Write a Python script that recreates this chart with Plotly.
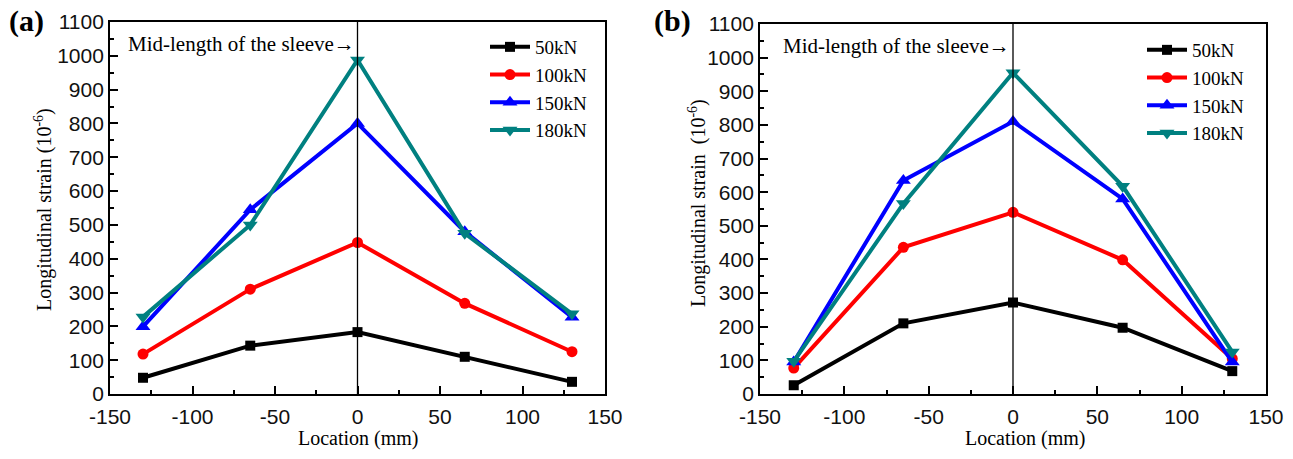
import plotly.graph_objects as go

W, H = 1293, 459
location = [-130, -65, 0, 65, 130]
series_names = ["50kN", "100kN", "150kN", "180kN"]
colors = ["#000000", "#ff0000", "#0000ff", "#008080"]
symbols = ["square", "circle", "triangle-up", "triangle-down"]
msizes = [10, 11, 13, 13]

a_50 = [48, 143, 183, 110, 36]
a_100 = [118, 310, 448, 268, 125]
a_150 = [199, 545, 800, 480, 227]
a_180 = [228, 500, 988, 475, 237]

b_50 = [26, 210, 272, 197, 68]
b_100 = [77, 436, 540, 399, 105]
b_150 = [95, 635, 810, 580, 95]
b_180 = [97, 566, 955, 618, 125]

x_ticks = [-150, -100, -50, 0, 50, 100, 150]
x_labels = ["-150", "-100", "-50", "0", "50", "100", "150"]
y_ticks = list(range(0, 1101, 100))

panel_a = [a_50, a_100, a_150, a_180]
panel_b = [b_50, b_100, b_150, b_180]

fig = go.Figure()

def px(v):
    return v / W

def py(v):
    return 1 - v / H

for i, name in enumerate(series_names):
    fig.add_trace(go.Scatter(
        x=location, y=panel_a[i], name=name, mode="lines+markers",
        line=dict(color=colors[i], width=4),
        marker=dict(symbol=symbols[i], size=msizes[i], color=colors[i]),
        xaxis="x", yaxis="y", legend="legend"))
for i, name in enumerate(series_names):
    fig.add_trace(go.Scatter(
        x=location, y=panel_b[i], name=name, mode="lines+markers",
        line=dict(color=colors[i], width=4),
        marker=dict(symbol=symbols[i], size=msizes[i], color=colors[i]),
        xaxis="x2", yaxis="y2", legend="legend2"))

serif = "Liberation Serif, Times New Roman"
tickfont = dict(family="Liberation Sans, Arial", size=21, color="#111")
common_x = dict(range=[-150, 150], tickvals=x_ticks, ticktext=x_labels, ticks="inside", ticklen=8,
                tickwidth=1.5, tickcolor="#000", showline=True, linecolor="#000",
                linewidth=1.8, mirror=True, showgrid=False, zeroline=False,
                tickfont=tickfont, automargin=False, ticklabelstandoff=3,
                minor=dict(dtick=25, ticks="inside", ticklen=4, tickcolor="#000", tickwidth=1.5))
common_y = dict(range=[0, 1100], tickvals=y_ticks, ticks="inside", ticklen=8,
                tickwidth=1.5, tickcolor="#000", showline=True, linecolor="#000",
                linewidth=1.8, mirror=True, showgrid=False, zeroline=False,
                tickfont=tickfont, automargin=False,
                minor=dict(dtick=50, ticks="inside", ticklen=4, tickcolor="#000", tickwidth=1.5))

legfont = dict(family=serif, size=19, color="#000")
fig.update_layout(
    width=W, height=H,
    margin=dict(l=0, r=0, t=0, b=0, autoexpand=False),
    paper_bgcolor="white", plot_bgcolor="white",
    xaxis=dict(domain=[px(110), px(605)], anchor="y", **common_x),
    yaxis=dict(domain=[py(394), py(22)], anchor="x", **common_y),
    xaxis2=dict(domain=[px(760), px(1266)], anchor="y2", **common_x),
    yaxis2=dict(domain=[py(394), py(24)], anchor="x2", **common_y),
    legend=dict(x=px(485), y=py(28), xanchor="left", yanchor="top", font=legfont,
                bgcolor="rgba(0,0,0,0)", tracegroupgap=0, itemwidth=40),
    legend2=dict(x=px(1142), y=py(31), xanchor="left", yanchor="top", font=legfont,
                 bgcolor="rgba(0,0,0,0)", tracegroupgap=0, itemwidth=40),
)

for xa, ya in [("x", "y"), ("x2", "y2")]:
    fig.add_shape(type="line", xref=xa, yref=ya, x0=0, x1=0, y0=0, y1=1100,
                  line=dict(color="#000", width=1.3))
    fig.add_annotation(xref=xa, yref=ya, x=0, y=1030, text="Mid-length of the sleeve→",
                       showarrow=False, xanchor="right", yanchor="middle", xshift=-1, yshift=2,
                       font=dict(family=serif, size=21, color="#000"))

annos = [
    (px(44), py(210), "Longitudinal strain (10<sup>-6</sup>)", -90),
    (px(697), py(203), "Longitudinal strain  (10<sup>-6</sup>)", -90),
    (px(358), py(438), "Location (mm)", 0),
    (px(1025), py(438), "Location (mm)", 0),
]
for x, y, t, ang in annos:
    fig.add_annotation(xref="paper", yref="paper", x=x, y=y, text=t, showarrow=False,
                       textangle=ang, xanchor="center", yanchor="middle",
                       font=dict(family=serif, size=20, color="#000"))

fig.add_annotation(xref="paper", yref="paper", x=px(7), y=py(21), text="<b>(a)</b>",
                   showarrow=False, xanchor="left", yanchor="middle",
                   font=dict(family=serif, size=30, color="#000"))
fig.add_annotation(xref="paper", yref="paper", x=px(652), y=py(21), text="<b>(b)</b>",
                   showarrow=False, xanchor="left", yanchor="middle",
                   font=dict(family=serif, size=30, color="#000"))

fig.write_html("out.html", config={"displayModeBar": False},
               post_script="document.body.style.margin='0';document.body.style.padding='0';")
